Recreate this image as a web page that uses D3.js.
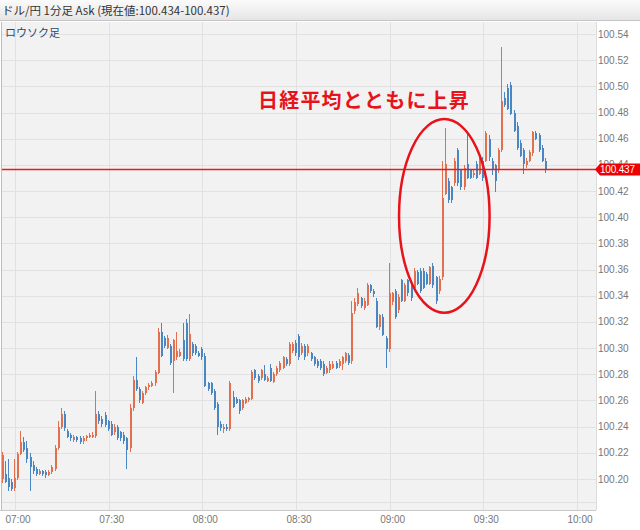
<!DOCTYPE html>
<html><head><meta charset="utf-8">
<script src="https://cdn.jsdelivr.net/npm/d3@7"></script>
<style>body{margin:0;background:#fff;} svg{display:block}</style>
</head><body>
<svg id="c" width="640" height="530"></svg>
<script>
// ---------- data ----------
const startTime = "06:56"; // first 1-minute candle
const opens = [
100.200,100.204,100.201,100.198,
100.193,100.201,100.219,100.228,100.224,100.217,100.211,100.208,100.204,100.206,
100.205,100.203,100.205,100.208,100.224,100.240,100.250,100.237,100.234,100.230,
100.232,100.231,100.229,100.231,100.232,100.232,100.233,100.250,100.246,100.249,
100.244,100.242,100.236,100.240,100.236,100.234,100.231,100.224,100.254,100.276,
100.269,100.258,100.266,100.270,100.271,100.273,100.281,100.312,100.308,100.300,
100.302,100.290,100.293,100.294,100.306,100.319,100.292,100.303,100.302,100.296,
100.299,100.294,100.273,100.273,100.267,100.257,100.242,100.238,100.240,100.238,
100.263,100.261,100.260,100.254,100.258,100.260,100.261,100.283,100.279,100.277,
100.280,100.275,100.285,100.274,100.280,100.283,100.285,100.292,100.288,100.298,
100.304,100.309,100.296,100.302,100.296,100.296,100.293,100.290,100.290,100.288,
100.281,100.283,100.285,100.289,100.286,100.288,100.290,100.295,100.290,100.328,
100.334,100.338,100.331,100.333,100.348,100.344,100.336,100.316,100.324,100.308,
100.299,100.335,100.344,100.329,100.352,100.336,100.352,100.348,100.346,100.358,
100.359,100.359,100.357,100.349,100.363,100.354,100.344,100.354,100.418,100.428,
100.423,100.426,100.451,100.436,100.423,100.441,100.436,100.432,100.441,100.433,
100.443,100.443,100.460,100.443,100.440,100.436,100.451,100.491,100.499,100.501,
100.480,100.470,100.457,100.451,100.440,100.443,100.449,100.464,100.463,100.453,100.443];
const closes = [
100.218,100.198,100.194,100.192,
100.201,100.219,100.228,100.222,100.215,100.209,100.206,100.204,100.206,100.204,
100.203,100.205,100.209,100.224,100.240,100.250,100.239,100.232,100.231,100.232,
100.230,100.228,100.231,100.233,100.234,100.234,100.250,100.244,100.242,100.241,
100.238,100.234,100.240,100.231,100.231,100.229,100.222,100.254,100.276,100.269,
100.260,100.266,100.270,100.272,100.273,100.282,100.312,100.294,100.302,100.308,
100.289,100.306,100.298,100.297,100.292,100.292,100.311,100.296,100.296,100.294,
100.293,100.271,100.269,100.266,100.254,100.240,100.239,100.240,100.238,100.273,
100.255,100.258,100.252,100.260,100.261,100.262,100.282,100.277,100.275,100.283,
100.276,100.277,100.275,100.280,100.285,100.289,100.293,100.288,100.303,100.303,
100.296,100.293,100.302,100.293,100.302,100.292,100.288,100.286,100.285,100.280,
100.285,100.288,100.288,100.285,100.290,100.293,100.296,100.289,100.327,100.335,
100.342,100.332,100.336,100.348,100.344,100.341,100.316,100.325,100.310,100.299,
100.342,100.342,100.324,100.339,100.336,100.348,100.342,100.338,100.359,100.349,
100.344,100.346,100.349,100.362,100.348,100.336,100.353,100.415,100.441,100.413,
100.413,100.443,100.426,100.423,100.438,100.430,100.430,100.434,100.430,100.443,
100.430,100.464,100.446,100.436,100.428,100.451,100.489,100.486,100.483,100.479,
100.466,100.453,100.447,100.441,100.443,100.450,100.465,100.460,100.451,100.443,100.437];
const highs = [
100.221,100.214,100.215,100.200,
100.215,100.221,100.237,100.232,100.229,100.220,100.214,100.209,100.208,100.207,
100.207,100.207,100.211,100.226,100.244,100.254,100.252,100.238,100.235,100.234,
100.233,100.233,100.233,100.234,100.235,100.236,100.267,100.252,100.248,100.251,
100.245,100.244,100.242,100.241,100.237,100.236,100.232,100.257,100.279,100.293,
100.270,100.267,100.271,100.273,100.275,100.283,100.315,100.319,100.309,100.310,
100.303,100.307,100.312,100.299,100.319,100.322,100.326,100.305,100.303,100.298,
100.301,100.296,100.274,100.274,100.269,100.259,100.244,100.242,100.242,100.275,
100.267,100.263,100.261,100.261,100.263,100.263,100.283,100.284,100.280,100.284,
100.287,100.279,100.288,100.282,100.286,100.290,100.294,100.293,100.305,100.305,
100.306,100.311,100.304,100.303,100.303,100.297,100.294,100.292,100.292,100.290,
100.286,100.290,100.290,100.290,100.292,100.294,100.297,100.296,100.336,100.338,
100.346,100.339,100.338,100.350,100.349,100.345,100.338,100.326,100.326,100.309,
100.365,100.343,100.345,100.341,100.353,100.350,100.353,100.349,100.361,100.360,
100.361,100.361,100.358,100.363,100.365,100.355,100.355,100.443,100.468,100.430,
100.424,100.445,100.453,100.437,100.440,100.466,100.437,100.436,100.443,100.445,
100.446,100.466,100.463,100.445,100.441,100.453,100.530,100.496,100.502,100.503,
100.482,100.473,100.459,100.453,100.445,100.451,100.466,100.466,100.464,100.455,100.445];
const lows = [
100.197,100.197,100.191,100.191,
100.191,100.199,100.218,100.221,100.212,100.191,100.204,100.202,100.203,100.202,
100.201,100.202,100.204,100.206,100.222,100.238,100.237,100.231,100.229,100.228,
100.228,100.227,100.227,100.229,100.231,100.231,100.231,100.242,100.240,100.240,
100.237,100.233,100.234,100.230,100.229,100.227,100.208,100.221,100.252,100.267,
100.258,100.257,100.264,100.268,100.270,100.271,100.280,100.293,100.300,100.299,
100.287,100.266,100.291,100.293,100.290,100.290,100.290,100.294,100.295,100.293,
100.291,100.270,100.267,100.264,100.253,100.234,100.237,100.235,100.237,100.237,
100.254,100.257,100.250,100.253,100.257,100.259,100.260,100.276,100.273,100.276,
100.275,100.274,100.274,100.273,100.279,100.282,100.284,100.286,100.286,100.296,
100.294,100.291,100.295,100.291,100.294,100.290,100.286,100.285,100.283,100.279,
100.280,100.281,100.284,100.284,100.285,100.283,100.289,100.287,100.288,100.326,
100.332,100.331,100.329,100.332,100.342,100.339,100.315,100.314,100.309,100.285,
100.297,100.333,100.322,100.327,100.335,100.335,100.340,100.336,100.345,100.348,
100.342,100.345,100.348,100.348,100.346,100.334,100.341,100.352,100.417,100.411,
100.411,100.424,100.424,100.421,100.421,100.429,100.429,100.430,100.429,100.432,
100.428,100.442,100.443,100.432,100.419,100.434,100.450,100.484,100.482,100.478,
100.465,100.451,100.446,100.433,100.438,100.442,100.447,100.459,100.450,100.442,100.434];
const priceTicks = [100.20,100.22,100.24,100.26,100.28,100.30,100.32,100.34,100.36,100.38,100.40,100.42,100.44,100.46,100.48,100.50,100.52,100.54];
const timeTicks = ["07:00","07:30","08:00","08:30","09:00","09:30","10:00"];
const currentPrice = 100.437;
const titleText = "ドル/円 1分足 Ask (現在値:100.434-100.437)";
const subtitleText = "ロウソク足";
const annotationText = "日経平均とともに上昇";
const annotationTimes = ["09:03","09:32"];
const annotationPrices = [100.327, 100.475];

// ---------- layout ----------
const W = 640, H = 530;
const plotL = 2, plotR = 596, plotT = 22, plotB = 510;
const upColor = "#e2704e", downColor = "#4a87c2";
const svg = d3.select("#c");
const toDate = s => { const [h,m] = s.split(":").map(Number); return new Date(2013,0,1,h,m); };
const t0 = toDate(startTime);
const candles = opens.map((o,i)=>({t:new Date(t0.getTime()+i*60000), o, c:closes[i], h:highs[i], l:lows[i]}));

const x = d3.scaleTime().domain([toDate("07:00"), toDate("10:00")]).range([15, 577]);
const y = d3.scaleLinear().domain([100.20, 100.54]).range([479, 34]);

// header
const defs = svg.append("defs");
const g1 = defs.append("linearGradient").attr("id","hdr").attr("x1",0).attr("y1",0).attr("x2",0).attr("y2",1);
g1.append("stop").attr("offset","0%").attr("stop-color","#fbfbfb");
g1.append("stop").attr("offset","100%").attr("stop-color","#e4e4e4");
svg.append("rect").attr("x",0).attr("y",0).attr("width",W).attr("height",21).attr("fill","url(#hdr)");
svg.append("line").attr("x1",0).attr("x2",W).attr("y1",20.5).attr("y2",20.5).attr("stroke","#c4c4c4");
svg.append("text").attr("x",2).attr("y",15).attr("font-family","'Noto Sans CJK JP', sans-serif")
  .attr("font-size",11.5).attr("fill","#333").text(titleText);

// plot background
svg.append("rect").attr("x",plotL).attr("y",plotT).attr("width",plotR-plotL).attr("height",plotB-plotT).attr("fill","#f2f2f2");
svg.append("line").attr("x1",plotL-0.5).attr("x2",plotL-0.5).attr("y1",plotT).attr("y2",plotB).attr("stroke","#bdbdbd");
svg.append("line").attr("x1",plotR+0.5).attr("x2",plotR+0.5).attr("y1",plotT).attr("y2",plotB).attr("stroke","#dcdcdc");

const grid = svg.append("g").attr("shape-rendering","crispEdges");
grid.selectAll(".h").data(priceTicks).join("line")
  .attr("x1",plotL).attr("x2",plotR).attr("y1",d=>Math.round(y(d))+0.5).attr("y2",d=>Math.round(y(d))+0.5)
  .attr("stroke","#e1e1e1");
grid.selectAll(".v").data(timeTicks).join("line")
  .attr("x1",d=>Math.round(x(toDate(d)))+0.5).attr("x2",d=>Math.round(x(toDate(d)))+0.5)
  .attr("y1",plotT).attr("y2",plotB).attr("stroke","#e1e1e1");
svg.append("line").attr("x1",plotL).attr("x2",plotR).attr("y1",plotB-7.5).attr("y2",plotB-7.5).attr("stroke","#e1e1e1");
svg.append("line").attr("x1",0).attr("x2",plotR).attr("y1",plotB+0.5).attr("y2",plotB+0.5).attr("stroke","#c8c8c8");

// subtitle
svg.append("text").attr("x",5).attr("y",37).attr("font-family","'Noto Sans CJK JP', sans-serif")
  .attr("font-size",11).attr("fill","#2c4a6e").text(subtitleText);

// candles
const cg = svg.append("g").attr("shape-rendering","crispEdges");
cg.selectAll("line.w").data(candles).join("line")
  .attr("x1",d=>Math.round(x(d.t))-0.5).attr("x2",d=>Math.round(x(d.t))-0.5)
  .attr("y1",d=>y(d.h)).attr("y2",d=>y(d.l))
  .attr("stroke",d=>d.c>=d.o?upColor:downColor).attr("stroke-width",1);
cg.selectAll("rect.b").data(candles).join("rect")
  .attr("x",d=>Math.round(x(d.t))-1).attr("width",2)
  .attr("y",d=>y(Math.max(d.o,d.c)))
  .attr("height",d=>Math.max(1, Math.abs(y(d.o)-y(d.c))))
  .attr("fill",d=>d.c>=d.o?upColor:downColor);

// right axis labels
svg.selectAll("text.yl").data(priceTicks).join("text")
  .attr("x",598).attr("y",d=>y(d)).attr("dy","0.35em")
  .attr("font-family","'Liberation Sans', Arial, sans-serif").attr("font-size",10).attr("fill","#777")
  .text(d=>d.toFixed(2));

// time labels
svg.selectAll("text.xl").data(timeTicks).join("text")
  .attr("x",d=>x(toDate(d))+3).attr("y",523).attr("text-anchor","middle")
  .attr("font-family","'Liberation Sans', Arial, sans-serif").attr("font-size",10).attr("fill","#777")
  .text(d=>d);

// current price line + tag
const yc = Math.round(y(currentPrice))+0.5;
svg.append("rect").attr("x",plotL).attr("y",yc-0.75).attr("width",plotR-plotL).attr("height",1.5)
  .attr("fill","#f01818");
svg.append("path").attr("d",`M${plotR-1},${yc} L${plotR+4},${yc-6} L${W},${yc-6} L${W},${yc+6} L${plotR+4},${yc+6} Z`).attr("fill","#f00000");
svg.append("text").attr("x",plotR+4).attr("y",yc).attr("dy","0.35em")
  .attr("font-family","'Liberation Sans', Arial, sans-serif").attr("font-size",10).attr("letter-spacing",-0.2)
  .attr("fill","#fff").text(currentPrice.toFixed(3));

// annotation
const ax0 = x(toDate(annotationTimes[0])), ax1 = x(toDate(annotationTimes[1]));
const ay0 = y(annotationPrices[1]), ay1 = y(annotationPrices[0]);
svg.append("ellipse").attr("cx",(ax0+ax1)/2).attr("cy",(ay0+ay1)/2).attr("rx",(ax1-ax0)/2).attr("ry",(ay1-ay0)/2)
  .attr("fill","none").attr("stroke","#e8121a").attr("stroke-width",2.5);
svg.append("text").attr("x",258).attr("y",108)
  .attr("font-family","'Noto Sans CJK JP', sans-serif").attr("font-weight","bold").attr("font-size",20)
  .attr("letter-spacing",1.2).attr("fill","#e8121a").text(annotationText);
</script>
</body></html>
